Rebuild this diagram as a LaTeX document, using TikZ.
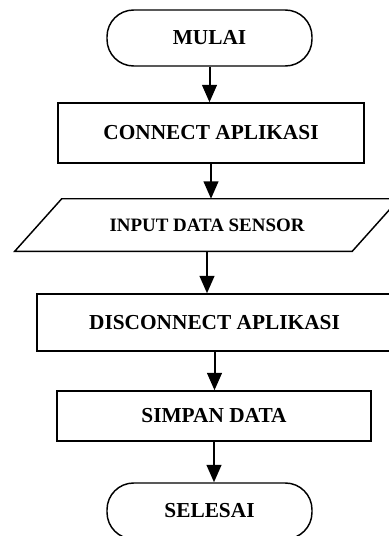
\documentclass[tikz,border=0pt]{standalone}
\usepackage{fontspec}
\setmainfont{Liberation Serif}
\usetikzlibrary{arrows.meta,positioning}

\begin{document}
\begin{tikzpicture}[x=0.75pt,y=-0.75pt,
  box/.style={draw,line width=1.1pt,rectangle,font=\fontsize{16}{19}\selectfont\bfseries},
  term/.style={box,rounded corners=20pt,minimum width=153.75pt,minimum height=42pt},
  flow/.style={line width=1.5pt,-{Triangle[length=13pt,width=11pt]}}]
\clip (0,0) rectangle (389,536);
\node [term] (mulai) at (209.5,38) {MULAI};
\node [box,minimum width=229.5pt,minimum height=45pt] (connect) at (211,133) {CONNECT APLIKASI};
\node [minimum width=288pt,minimum height=39pt,font=\fontsize{14.2}{17}\selectfont\bfseries] (input) at (207,225) {INPUT DATA SENSOR};
\draw [line width=1.1pt] (input.south west) -- ([xshift=-35.25pt]input.south east)
  -- (input.north east) -- ([xshift=35.25pt]input.north west) -- cycle;
\node [box,minimum width=266pt,minimum height=42.75pt] (disconnect) at (214.5,322.5) {DISCONNECT APLIKASI};
\node [box,minimum width=235.5pt,minimum height=37.5pt] (simpan) at (214,416) {SIMPAN DATA};
\node [term] (selesai) at (209.5,511) {SELESAI};
% arrows between the steps
\draw [flow] (mulai.south) -- (mulai.south |- connect.north);
\draw [flow] (connect.south) -- (connect.south |- input.north);
\draw [flow] (input.south) -- (input.south |- disconnect.north);
\draw [flow] (disconnect.south) -- (disconnect.south |- simpan.north);
\draw [flow] (simpan.south) -- (simpan.south |- selesai.north);
\end{tikzpicture}
\end{document}
